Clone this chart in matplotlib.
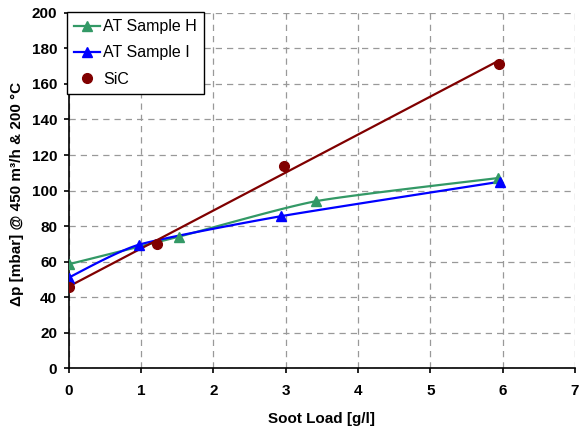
import numpy as np
import matplotlib
matplotlib.use('Agg')
import matplotlib.pyplot as plt

h_x = [0.0, 1.52, 3.42, 5.93]
h_y = [58.5, 74.0, 94.0, 107.0]
i_x = [0.0, 0.97, 2.93, 5.97]
i_y = [51.0, 69.5, 85.5, 105.0]
sic_x = [0.0, 1.22, 2.98, 5.95]
sic_y = [45.5, 70.0, 114.0, 171.5]

GREEN = '#339966'
BLUE = '#0000ff'
DARKRED = '#800000'


def smooth(x, y, n=30, tension=0.6):
    """ Bezier curve through the points, like an Excel smoothed line (end points doubled) """
    x = np.asarray(x, float)
    y = np.asarray(y, float)
    px = np.concatenate([[x[0]], x, [x[-1]]])
    py = np.concatenate([[y[0]], y, [y[-1]]])
    t = np.linspace(0, 1, n)
    out_x, out_y = [], []
    for k in range(1, len(px) - 2):
        for p, out in ((px, out_x), (py, out_y)):
            b0 = p[k]
            b1 = p[k] + tension * (p[k + 1] - p[k - 1]) / 6
            b2 = p[k + 1] - tension * (p[k + 2] - p[k]) / 6
            b3 = p[k + 1]
            out.extend((1 - t) ** 3 * b0 + 3 * (1 - t) ** 2 * t * b1 + 3 * (1 - t) * t ** 2 * b2 + t ** 3 * b3)
    return out_x, out_y


plt.rcParams['font.family'] = ['Liberation Sans', 'DejaVu Sans']

fig = plt.figure(figsize=(5.79, 4.32), dpi=100)
ax = fig.add_axes([0.119, 0.148, 0.874, 0.822])

sx, sy = smooth(h_x, h_y)
ax.plot(sx, sy, color=GREEN, lw=1.6, zorder=3)
ax.plot(h_x, h_y, ls='none', marker='^', ms=7, color=GREEN, zorder=4)
ax.plot([], [], color=GREEN, lw=1.6, marker='^', ms=7, label='AT Sample H')

sx, sy = smooth(i_x, i_y)
ax.plot(sx, sy, color=BLUE, lw=1.6, zorder=3)
ax.plot(i_x, i_y, ls='none', marker='^', ms=7, color=BLUE, zorder=4)
ax.plot([], [], color=BLUE, lw=1.6, marker='^', ms=7, label='AT Sample I')

ax.plot(sic_x, sic_y, ls='none', marker='o', ms=7, color=DARKRED, zorder=4, label='SiC')
slope, icpt = np.polyfit(sic_x, sic_y, 1)
fx = np.array([min(sic_x), max(sic_x)])
ax.plot(fx, slope * fx + icpt, color=DARKRED, lw=1.6, zorder=3)

ax.set_xlim(0, 7)
ax.set_ylim(0, 200)
ax.set_xticks(range(0, 8))
ax.set_yticks(range(0, 201, 20))
ax.grid(True, color='#999999', ls=(0, (5, 4)), lw=0.9)
ax.set_axisbelow(True)
for s in ('top', 'right'):
    ax.spines[s].set_visible(False)
for s in ('left', 'bottom'):
    ax.spines[s].set_linewidth(1.2)
ax.tick_params(direction='out', length=3.5, width=1.2, labelsize=11)
ax.tick_params(axis='x', pad=8)
ax.tick_params(axis='y', pad=5)
for lab in ax.get_xticklabels() + ax.get_yticklabels():
    lab.set_fontweight('bold')

ax.set_xlabel('Soot Load [g/l]', fontsize=11, fontweight='bold')
ax.set_ylabel('\u0394p [mbar] @ 450 m\u00b3/h & 200 \u00b0C', fontsize=11, fontweight='bold')
ax.xaxis.set_label_coords(0.5, -0.125)
ax.yaxis.set_label_coords(-0.089, 0.49)

leg = ax.legend(loc='upper left', bbox_to_anchor=(67 / 579, 1 - 12 / 432), bbox_transform=fig.transFigure,
                borderaxespad=0, fontsize=11.5, fancybox=False, framealpha=1, edgecolor='black',
                borderpad=0.45, handlelength=1.6, handletextpad=0.2, labelspacing=0.7)
leg.get_frame().set_linewidth(1.0)

fig.savefig('out.png', dpi=100)
